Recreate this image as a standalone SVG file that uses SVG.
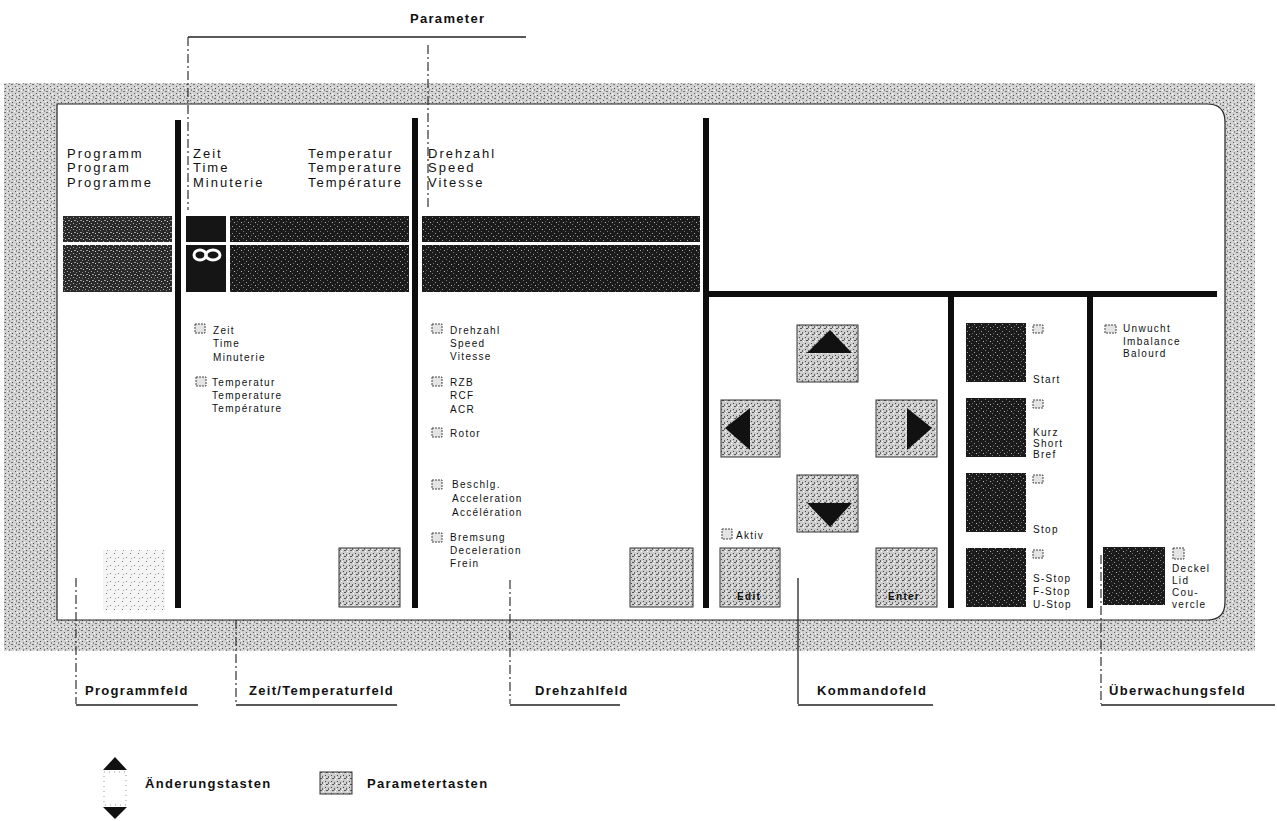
<svg xmlns="http://www.w3.org/2000/svg" width="1277" height="821" viewBox="0 0 1277 821">
<defs>
<pattern id="grain" width="7" height="7" patternUnits="userSpaceOnUse">
<rect width="7" height="7" fill="#d2d2d2"/>
<rect x="1" y="2" width="1" height="1" fill="#555"/>
<rect x="4" y="0" width="2" height="1" fill="#777"/>
<rect x="5" y="4" width="1" height="1" fill="#444"/>
<rect x="2" y="5" width="1" height="2" fill="#888"/>
<rect x="0" y="6" width="1" height="1" fill="#fff"/>
<rect x="3" y="3" width="1" height="1" fill="#fff"/>
</pattern>
<pattern id="keytex" width="6" height="6" patternUnits="userSpaceOnUse">
<rect width="6" height="6" fill="#cdcdcd"/>
<rect x="1" y="1" width="1" height="1" fill="#444"/>
<rect x="4" y="2" width="1" height="2" fill="#666"/>
<rect x="2" y="4" width="2" height="1" fill="#555"/>
<rect x="0" y="3" width="1" height="1" fill="#fff"/>
<rect x="5" y="5" width="1" height="1" fill="#fff"/>
</pattern>
<pattern id="lighttex" width="8" height="8" patternUnits="userSpaceOnUse">
<rect width="8" height="8" fill="#f4f4f4"/>
<rect x="2" y="1" width="1" height="1" fill="#777"/>
<rect x="6" y="5" width="1" height="1" fill="#888"/>
<rect x="3" y="6" width="1" height="1" fill="#999"/>
</pattern>
<pattern id="darktex" width="7" height="7" patternUnits="userSpaceOnUse">
<rect width="7" height="7" fill="#1b1b1b"/>
<rect x="1" y="2" width="1" height="1" fill="#9a9a9a"/>
<rect x="5" y="0" width="1" height="1" fill="#777"/>
<rect x="3" y="5" width="1" height="1" fill="#bbb"/>
<rect x="6" y="4" width="1" height="1" fill="#666"/>
</pattern>
<pattern id="darktex2" width="6" height="6" patternUnits="userSpaceOnUse">
<rect width="6" height="6" fill="#2a2a2a"/>
<rect x="1" y="1" width="1" height="1" fill="#aaa"/>
<rect x="4" y="2" width="1" height="1" fill="#888"/>
<rect x="2" y="4" width="2" height="1" fill="#999"/>
<rect x="5" y="5" width="1" height="1" fill="#ccc"/>
</pattern>
</defs>
<style>
text { font-family: "Liberation Sans", Arial, sans-serif; fill: #111; }
.hd { font-size: 13px; letter-spacing: 2px; }
.sm { font-size: 10px; letter-spacing: 1.3px; }
.lb { font-size: 13px; font-weight: bold; letter-spacing: 1.3px; }
.bar { fill: #0d0d0d; }
.pkey { fill: url(#keytex); stroke: #333; stroke-width: 1; }
.dkey { fill: url(#darktex); }
.led { fill: #e4e4e4; stroke: #444; stroke-width: 1; stroke-dasharray: 2 1; }
.tri { fill: #111; }
.lead { fill: none; stroke: #222; stroke-width: 1.3; }
.dash { fill: none; stroke: #333; stroke-width: 1.2; stroke-dasharray: 9 3 2 3; }
</style>

<g id="frame">
<rect x="4" y="83" width="1251" height="568" fill="url(#grain)"/>
<path d="M57 104 H1207 Q1225 104 1225 122 V602 Q1225 620 1207 620 H57 Z" fill="#fff" stroke="#222" stroke-width="1.2"/>
</g>

<g id="display">
<rect x="63" y="216" width="109" height="26" fill="url(#darktex2)"/>
<rect x="63" y="245" width="109" height="47" fill="url(#darktex2)"/>
<rect x="186" y="216" width="40" height="26" fill="#151515"/>
<rect x="186" y="245" width="40" height="47" fill="#151515"/>
<g fill="none" stroke="#fff" stroke-width="3"><ellipse cx="200" cy="255" rx="6" ry="5"/><ellipse cx="213" cy="255" rx="7" ry="5"/></g>
<rect x="230" y="216" width="179" height="26" fill="url(#darktex)"/>
<rect x="230" y="245" width="179" height="47" fill="url(#darktex)"/>
<rect x="422" y="216" width="278" height="26" fill="url(#darktex)"/>
<rect x="422" y="245" width="278" height="47" fill="url(#darktex)"/>
</g>

<g id="dividers">
<rect class="bar" x="175" y="120" width="6" height="488"/>
<rect class="bar" x="412" y="118" width="6" height="490"/>
<rect class="bar" x="703" y="118" width="6" height="490"/>
<rect class="bar" x="703" y="291" width="514" height="6"/>
<rect class="bar" x="948" y="297" width="6" height="311"/>
<rect class="bar" x="1087" y="297" width="6" height="311"/>
</g>

<g id="programmfeld">
<text class="hd" x="67" y="158">Programm</text>
<text class="hd" x="67" y="172">Program</text>
<text class="hd" x="67" y="187">Programme</text>
<rect x="103" y="550" width="62" height="60" fill="url(#lighttex)"/>
</g>

<g id="zeitfeld">
<text class="hd" x="193" y="158">Zeit</text>
<text class="hd" x="193" y="172">Time</text>
<text class="hd" x="193" y="187">Minuterie</text>
<text class="hd" x="308" y="158">Temperatur</text>
<text class="hd" x="308" y="172">Temperature</text>
<text class="hd" x="308" y="187">Température</text>
<rect class="led" x="195" y="324" width="10" height="9"/>
<text class="sm" x="213" y="334">Zeit</text>
<text class="sm" x="213" y="347">Time</text>
<text class="sm" x="213" y="361">Minuterie</text>
<rect class="led" x="196" y="377" width="10" height="9"/>
<text class="sm" x="212" y="386">Temperatur</text>
<text class="sm" x="212" y="399">Temperature</text>
<text class="sm" x="212" y="412">Température</text>
<rect class="pkey" x="339" y="548" width="61" height="59"/>
</g>

<g id="drehzahlfeld">
<text class="hd" x="428" y="158">Drehzahl</text>
<text class="hd" x="428" y="172">Speed</text>
<text class="hd" x="428" y="187">Vitesse</text>
<rect class="led" x="432" y="324" width="10" height="9"/>
<text class="sm" x="450" y="334">Drehzahl</text>
<text class="sm" x="450" y="347">Speed</text>
<text class="sm" x="450" y="360">Vitesse</text>
<rect class="led" x="432" y="377" width="10" height="9"/>
<text class="sm" x="450" y="386">RZB</text>
<text class="sm" x="450" y="399">RCF</text>
<text class="sm" x="450" y="413">ACR</text>
<rect class="led" x="432" y="428" width="10" height="9"/>
<text class="sm" x="450" y="437">Rotor</text>
<rect class="led" x="432" y="480" width="10" height="9"/>
<text class="sm" x="452" y="488">Beschlg.</text>
<text class="sm" x="452" y="502">Acceleration</text>
<text class="sm" x="452" y="516">Accélération</text>
<rect class="led" x="432" y="533" width="10" height="9"/>
<text class="sm" x="450" y="541">Bremsung</text>
<text class="sm" x="450" y="554">Deceleration</text>
<text class="sm" x="450" y="567">Frein</text>
<rect class="pkey" x="630" y="548" width="63" height="59"/>
</g>

<g id="kommandofeld">
<rect class="pkey" x="797" y="325" width="61" height="57"/>
<polygon class="tri" points="807,353 852,353 830,330"/>
<rect class="pkey" x="721" y="400" width="59" height="57"/>
<polygon class="tri" points="750,408 750,450 725,428"/>
<rect class="pkey" x="876" y="400" width="61" height="57"/>
<polygon class="tri" points="907,408 907,450 932,428"/>
<rect class="pkey" x="797" y="475" width="61" height="57"/>
<polygon class="tri" points="807,503 852,503 830,527"/>
<rect class="led" x="722" y="529" width="10" height="10"/>
<text class="sm" x="736" y="539">Aktiv</text>
<rect class="pkey" x="720" y="548" width="60" height="59"/>
<text class="sm" x="737" y="600" font-weight="bold">Edit</text>
<rect class="pkey" x="876" y="548" width="61" height="59"/>
<text class="sm" x="888" y="600" font-weight="bold">Enter</text>
</g>

<g id="startstopfeld">
<rect class="dkey" x="966" y="323" width="60" height="59"/>
<rect class="led" x="1033" y="325" width="10" height="8"/>
<text class="sm" x="1033" y="383">Start</text>
<rect class="dkey" x="966" y="398" width="60" height="59"/>
<rect class="led" x="1033" y="400" width="10" height="8"/>
<text class="sm" x="1033" y="436">Kurz</text>
<text class="sm" x="1033" y="447">Short</text>
<text class="sm" x="1033" y="458">Bref</text>
<rect class="dkey" x="966" y="473" width="60" height="59"/>
<rect class="led" x="1033" y="475" width="10" height="8"/>
<text class="sm" x="1033" y="533">Stop</text>
<rect class="dkey" x="966" y="548" width="60" height="59"/>
<rect class="led" x="1033" y="550" width="10" height="8"/>
<text class="sm" x="1033" y="582">S-Stop</text>
<text class="sm" x="1033" y="595">F-Stop</text>
<text class="sm" x="1033" y="608">U-Stop</text>
</g>

<g id="ueberwachungsfeld">
<rect class="led" x="1105" y="325" width="11" height="8"/>
<text class="sm" x="1123" y="332">Unwucht</text>
<text class="sm" x="1123" y="345">Imbalance</text>
<text class="sm" x="1123" y="357">Balourd</text>
<rect class="dkey" x="1103" y="547" width="62" height="58"/>
<rect class="led" x="1173" y="548" width="11" height="11"/>
<text class="sm" x="1172" y="572">Deckel</text>
<text class="sm" x="1172" y="584">Lid</text>
<text class="sm" x="1172" y="596">Cou-</text>
<text class="sm" x="1172" y="608">vercle</text>
</g>

<g id="connectors">
<path class="lead" d="M188 37 H526"/>
<path class="dash" d="M188 37 V210"/>
<path class="dash" d="M428 45 V210"/>
<path class="dash" d="M76 578 V704"/>
<path class="lead" d="M76 705 H198"/>
<path class="dash" d="M236 620 V704"/>
<path class="lead" d="M236 705 H397"/>
<path class="dash" d="M510 580 V704"/>
<path class="lead" d="M510 705 H620"/>
<path class="lead" d="M798 578 V704"/>
<path class="lead" d="M798 705 H933"/>
<path class="dash" d="M1101 555 V704"/>
<path class="lead" d="M1101 705 H1275"/>
</g>

<g id="labels">
<text class="lb" x="410" y="23" letter-spacing="1.5">Parameter</text>
<text class="lb" x="85" y="695">Programmfeld</text>
<text class="lb" x="249" y="695" letter-spacing="1">Zeit/Temperaturfeld</text>
<text class="lb" x="535" y="695">Drehzahlfeld</text>
<text class="lb" x="817" y="695" letter-spacing="1.5">Kommandofeld</text>
<text class="lb" x="1109" y="695">Überwachungsfeld</text>
</g>

<g id="legend">
<polygon class="tri" points="103,770 127,770 115,757"/>
<rect x="104" y="772" width="22" height="33" fill="none" stroke="#999" stroke-width="1" stroke-dasharray="1 4"/>
<polygon class="tri" points="103,807 127,807 115,819"/>
<text class="lb" x="145" y="788" letter-spacing="1.4">Änderungstasten</text>
<rect class="pkey" x="320" y="772" width="32" height="22"/>
<text class="lb" x="367" y="788" font-size="12">Parametertasten</text>
</g>
</svg>
